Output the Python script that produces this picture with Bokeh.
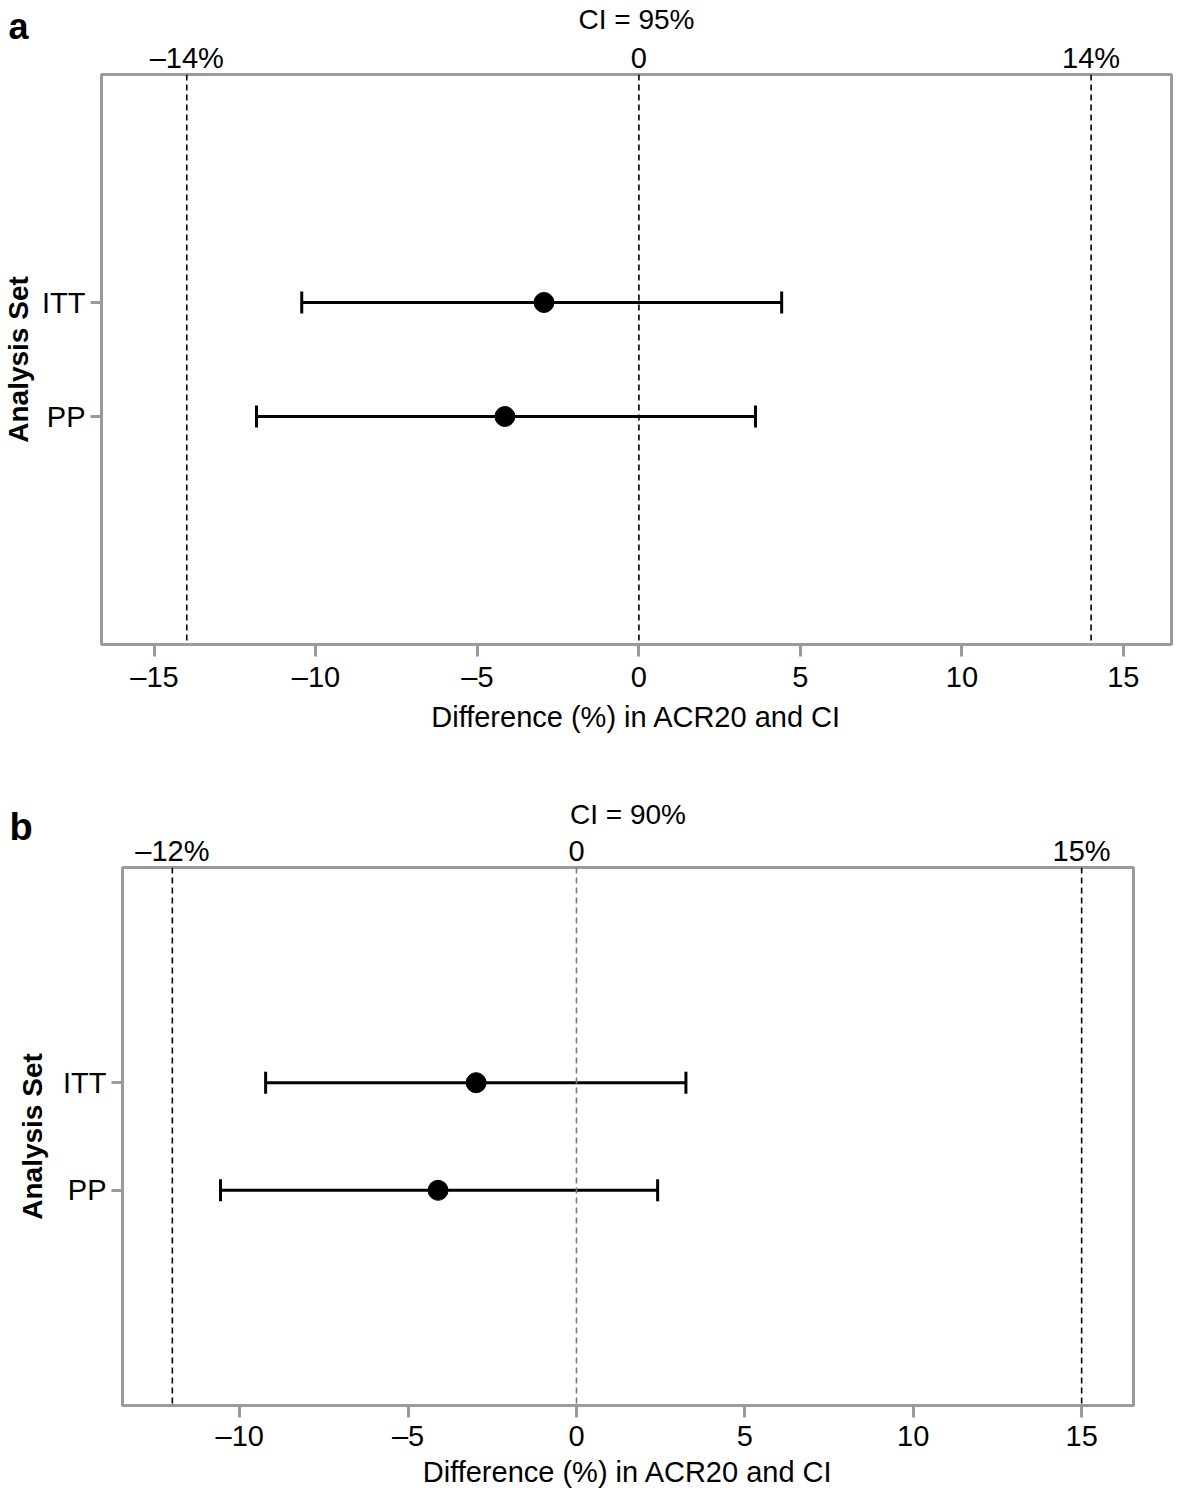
from bokeh.plotting import figure
from bokeh.models import (Range1d, LinearAxis, FixedTicker, Span, Whisker, TeeHead,
                          ColumnDataSource, Label)
from bokeh.embed import file_html
from bokeh.resources import INLINE

# ---- data ----
sets = ["ITT", "PP"]
set_pos = [2, 1]

a_est = [-2.94, -4.15]
a_lower = [-10.44, -11.84]
a_upper = [4.42, 3.61]
a_margins = [-14, 0, 14]
a_margin_labels = ["\u201314%", "0", "14%"]
a_ci = "CI = 95%"
a_xticks = [-15, -10, -5, 0, 5, 10, 15]

b_est = [-2.98, -4.11]
b_lower = [-9.23, -10.57]
b_upper = [3.25, 2.41]
b_margins = [-12, 0, 15]
b_margin_labels = ["\u201312%", "0", "15%"]
b_ci = "CI = 90%"
b_xticks = [-10, -5, 0, 5, 10, 15]

FONT = "Liberation Sans"
GRAY = "#9a9a9a"
FS = "29px"


def tick_label(v):
    return ("\u2013" + str(abs(v))) if v < 0 else str(v)


def make_panel(ci, est, lower, upper, margins, margin_labels, xticks, xr,
               w, h, mb_left, mb_right, mb_top, mb_bottom, zero_color, ylab_standoff,
               ci_standoff, xl_standoff, xal_standoff):
    p = figure(width=w, height=h, output_backend="svg", toolbar_location=None,
               x_range=Range1d(*xr), y_range=Range1d(-1, 4),
               min_border_left=mb_left, min_border_right=mb_right,
               min_border_top=mb_top, min_border_bottom=mb_bottom,
               x_axis_location=None, y_axis_location=None)
    p.grid.visible = False
    p.outline_line_color = GRAY
    p.outline_line_width = 3
    p.background_fill_color = "white"
    p.border_fill_color = "white"

    xa = LinearAxis(ticker=FixedTicker(ticks=xticks),
                    major_label_overrides={v: tick_label(v) for v in xticks},
                    axis_label="Difference (%) in ACR20 and CI")
    xa.axis_line_color = None
    xa.major_tick_line_color = GRAY
    xa.major_tick_line_width = 3
    xa.major_tick_out = 12
    xa.major_tick_in = 0
    xa.minor_tick_line_color = None
    xa.major_label_text_font = FONT
    xa.major_label_text_font_size = FS
    xa.major_label_text_color = "black"
    xa.major_label_standoff = xl_standoff
    xa.axis_label_text_font = FONT
    xa.axis_label_text_font_size = FS
    xa.axis_label_text_font_style = "normal"
    xa.axis_label_text_color = "black"
    xa.axis_label_standoff = xal_standoff
    p.add_layout(xa, "below")

    ta = LinearAxis(ticker=FixedTicker(ticks=margins),
                    major_label_overrides={m: l for m, l in zip(margins, margin_labels)},
                    axis_label=ci)
    ta.axis_line_color = None
    ta.major_tick_line_color = None
    ta.major_tick_out = 0
    ta.major_tick_in = 0
    ta.minor_tick_line_color = None
    ta.major_label_text_font = FONT
    ta.major_label_text_font_size = FS
    ta.major_label_text_color = "black"
    ta.major_label_standoff = 1
    ta.axis_label_text_font = FONT
    ta.axis_label_text_font_size = "28px"
    ta.axis_label_text_font_style = "normal"
    ta.axis_label_text_color = "black"
    ta.axis_label_standoff = ci_standoff
    p.add_layout(ta, "above")

    ya = LinearAxis(ticker=FixedTicker(ticks=set_pos),
                    major_label_overrides={pos: s for pos, s in zip(set_pos, sets)},
                    axis_label="Analysis Set")
    ya.axis_line_color = None
    ya.major_tick_line_color = GRAY
    ya.major_tick_line_width = 3
    ya.major_tick_out = 11
    ya.major_tick_in = 0
    ya.minor_tick_line_color = None
    ya.major_label_text_font = FONT
    ya.major_label_text_font_size = FS
    ya.major_label_text_color = "black"
    ya.major_label_standoff = 5
    ya.axis_label_text_font = FONT
    ya.axis_label_text_font_size = "28px"
    ya.axis_label_text_font_style = "bold"
    ya.axis_label_text_color = "black"
    ya.axis_label_standoff = ylab_standoff
    p.add_layout(ya, "left")

    for m in margins:
        col = zero_color if m == 0 else "black"
        p.add_layout(Span(location=m, dimension="height", line_color=col,
                          line_width=1.6, line_dash="6 4"))

    src = ColumnDataSource(dict(y=set_pos, est=est, lower=lower, upper=upper))
    wk = Whisker(source=src, base="y", lower="lower", upper="upper", dimension="width",
                 line_color="black", line_width=3,
                 lower_head=TeeHead(size=22, line_color="black", line_width=3),
                 upper_head=TeeHead(size=22, line_color="black", line_width=3))
    p.add_layout(wk)
    p.scatter(x="est", y="y", source=src, size=20, color="black")
    return p


pa = make_panel(a_ci, a_est, a_lower, a_upper, a_margins, a_margin_labels, a_xticks,
                (-16.64, 16.49), 1173, 795, 94, 2, 66, 151, "black", 5, 4, 4, 5)
pb = make_panel(b_ci, b_est, b_lower, b_upper, b_margins, b_margin_labels, b_xticks,
                (-13.48, 16.54), 1173, 695, 122, 40, 70, 82, "#7a7a7a", 12, 2, 2, 1)

# panel letters, placed in side panels so they are not clipped by the frame
la = Label(x=-93, y=750, x_units="screen", y_units="screen", text="a",
           text_baseline="alphabetic", text_align="left",
           text_font=FONT, text_font_size="36px", text_font_style="bold",
           text_color="black")
pa.add_layout(la, "below")

lb = Label(x=-1124, y=579, x_units="screen", y_units="screen", text="b",
           text_baseline="alphabetic", text_align="left",
           text_font=FONT, text_font_size="38px", text_font_style="bold",
           text_color="black")
pb.add_layout(lb, "right")

open("out.html", "w").write(file_html([pa, pb], INLINE))
